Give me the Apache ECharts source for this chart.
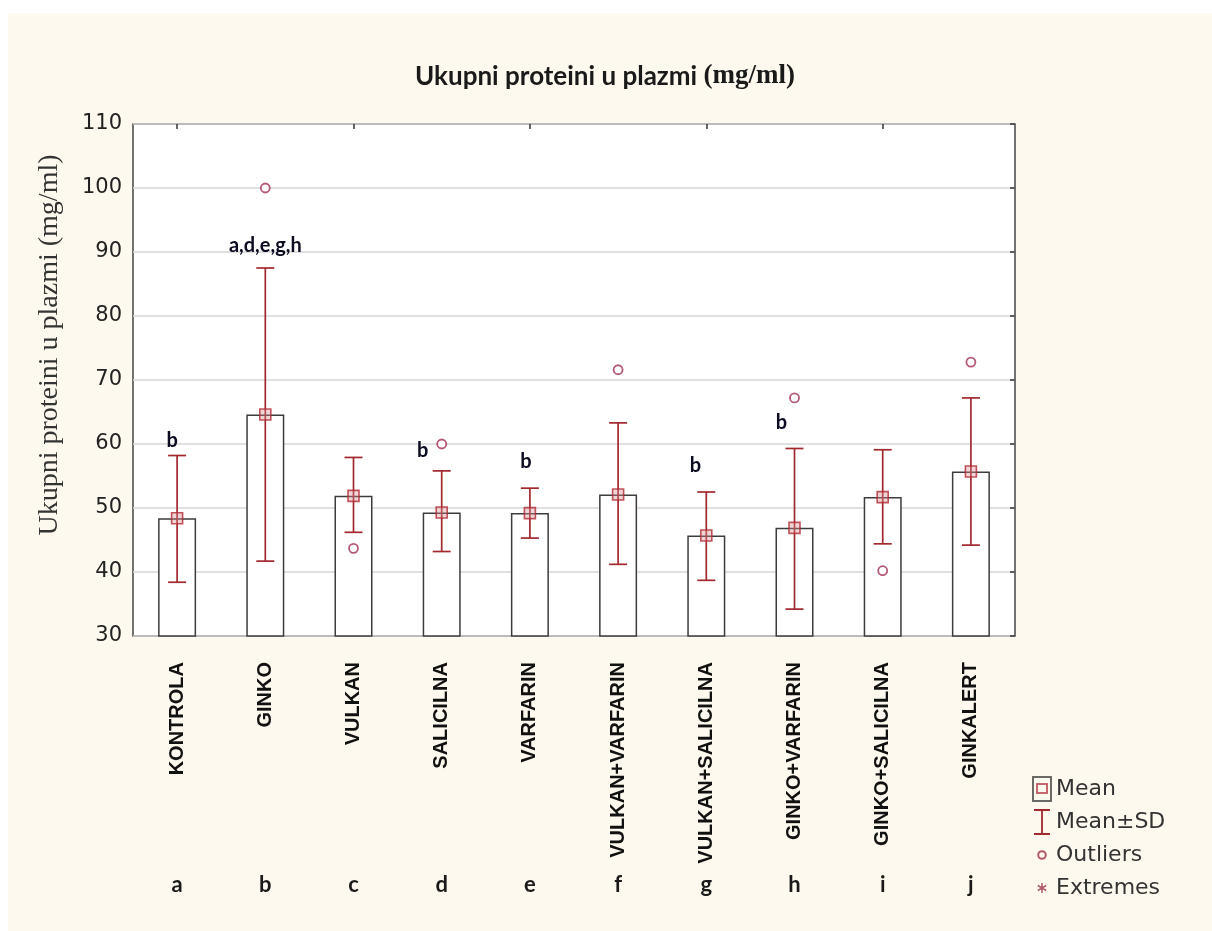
<!DOCTYPE html>
<html>
<head>
<meta charset="utf-8">
<script src="https://cdn.jsdelivr.net/npm/echarts@6/dist/echarts.min.js"></script>
<style>
  html, body { margin: 0; padding: 0; background: #fff; }
  #chart { width: 1212px; height: 931px;
    background: linear-gradient(#fef9ee, #fef9ee) 8px 13px / 100% 100% no-repeat, #fff; }
</style>
</head>
<body>
<div id="chart"></div>
<script>
// ---- data ----
const categories = ['KONTROLA', 'GINKO', 'VULKAN', 'SALICILNA', 'VARFARIN',
  'VULKAN+VARFARIN', 'VULKAN+SALICILNA', 'GINKO+VARFARIN', 'GINKO+SALICILNA', 'GINKALERT'];
const groupLetters = ['a', 'b', 'c', 'd', 'e', 'f', 'g', 'h', 'i', 'j'];
const means   = [48.4, 64.6, 51.9, 49.3, 49.2, 52.1, 45.7, 46.9, 51.7, 55.7];
const sdUpper = [58.2, 87.5, 57.9, 55.8, 53.1, 63.3, 52.5, 59.3, 59.1, 67.2];
const sdLower = [38.4, 41.7, 46.2, 43.2, 45.3, 41.2, 38.7, 34.2, 44.4, 44.2];
// [category index, value]
const outliers = [[1, 100.0], [2, 43.7], [3, 60.0], [5, 71.6], [7, 67.2], [8, 40.2], [9, 72.8]];
const extremes = [];
// [category index, text, value]
const sigLabels = [[0, 'b', 60.5], [1, 'a,d,e,g,h', 91.0], [3, 'b', 59.0], [4, 'b', 57.2], [6, 'b', 56.6], [7, 'b', 63.4]];
const yMin = 30, yMax = 110, yStep = 10;
const titleMain = 'Ukupni proteini u plazmi ';
const titleUnit = '(mg/ml)';
const yTitle = 'Ukupni proteini u plazmi (mg/ml)';

// ---- styling helpers ----
const sigShiftX = { 0: -5, 1: 0, 3: -19, 4: -4, 6: -11, 7: -13 };
const RED = '#a3282e';
function svgIcon(svg) { return 'image://data:image/svg+xml;charset=utf-8,' + encodeURIComponent(svg); }
const iconMean = svgIcon('<svg xmlns="http://www.w3.org/2000/svg" width="22" height="26"><rect x="2" y="1" width="18" height="24" fill="none" stroke="#333" stroke-width="1.8"/><rect x="6" y="8" width="10" height="9" fill="none" stroke="#b03040" stroke-width="1.8"/></svg>');
const iconSD = svgIcon('<svg xmlns="http://www.w3.org/2000/svg" width="22" height="26"><path d="M3 1H19M11 1V25M3 25H19" fill="none" stroke="#a3282e" stroke-width="1.8"/></svg>');
const iconOut = svgIcon('<svg xmlns="http://www.w3.org/2000/svg" width="22" height="26"><circle cx="11" cy="13" r="3.8" fill="none" stroke="#a03050" stroke-width="2"/></svg>');
const iconExt = svgIcon('<svg xmlns="http://www.w3.org/2000/svg" width="22" height="26"><path d="M11 8V18M6.8 10.5L15.2 15.5M6.8 15.5L15.2 10.5" fill="none" stroke="#a03050" stroke-width="1.5"/></svg>');

const chart = echarts.init(document.getElementById('chart'), null, { renderer: 'canvas' });

const errData = categories.map((c, i) => [i, sdLower[i], sdUpper[i]]);

const option = {
  animation: false,
  title: {
    text: '{a|' + titleMain + '}{b|' + titleUnit + '}',
    left: 600, top: 58, textAlign: 'center',
    textStyle: {
      rich: {
        a: { fontFamily: 'Lato', fontWeight: 'bold', fontSize: 26, color: '#1a1a1a' },
        b: { fontFamily: 'Liberation Serif', fontSize: 27, color: '#1a1a1a' }
      }
    }
  },
  grid: {
    left: 133, top: 124, right: 197, bottom: 295,
    show: true, backgroundColor: '#fff', borderColor: '#444', borderWidth: 1.5
  },
  legend: {
    orient: 'vertical', left: 1026, top: 771,
    itemWidth: 22, itemHeight: 26, itemGap: 7,
    selectedMode: false,
    textStyle: { fontFamily: 'DejaVu Sans', fontSize: 22, color: '#333', padding: [0, 0, 0, -2] },
    data: [
      { name: 'Mean', icon: iconMean },
      { name: 'Mean±SD', icon: iconSD },
      { name: 'Outliers', icon: iconOut },
      { name: 'Extremes', icon: iconExt }
    ]
  },
  xAxis: [
    {
      type: 'category', data: categories, position: 'bottom',
      axisLine: { show: false },
      axisTick: { show: true, inside: true, alignWithLabel: true, length: 5, lineStyle: { color: '#333', width: 1.5 } },
      axisLabel: { rotate: 90, margin: 26, fontFamily: 'Liberation Sans', fontWeight: 'bold', fontSize: 20, color: '#111' },
      splitLine: { show: false }
    },
    {
      type: 'category', data: categories, position: 'top',
      axisLine: { show: false },
      axisTick: { show: true, inside: true, alignWithLabel: true, length: 5, lineStyle: { color: '#333', width: 1.5 } },
      axisLabel: { show: false }
    },
    {
      type: 'category', data: groupLetters, position: 'bottom', offset: 238,
      axisLine: { show: false }, axisTick: { show: false },
      axisLabel: { margin: 0, fontFamily: 'Lato', fontWeight: 'bold', fontSize: 22, color: '#1a1a1a' }
    }
  ],
  yAxis: [
    {
      type: 'value', min: yMin, max: yMax, interval: yStep,
      axisLine: { show: false }, axisTick: { show: false },
      axisLabel: { margin: 11, fontFamily: 'DejaVu Sans', fontSize: 21, color: '#222' },
      splitLine: { show: true, lineStyle: { color: '#d6d6d6', width: 1.5 } }
    },
    {
      type: 'value', min: yMin, max: yMax, interval: yStep, position: 'right',
      axisLine: { show: false },
      axisTick: { show: true, inside: true, length: 5, lineStyle: { color: '#333', width: 1.5 } },
      axisLabel: { show: false }, splitLine: { show: false }
    }
  ],
  graphic: [
    {
      type: 'text', x: 50, y: 345, rotation: Math.PI / 2,
      style: { text: yTitle, fontFamily: 'Liberation Serif', fontSize: 28, fill: '#333',
        textAlign: 'center', textVerticalAlign: 'middle' }
    }
  ],
  series: [
    {
      name: 'Bars', type: 'bar', data: means, barWidth: 38, z: 2,
      itemStyle: { color: '#fff', borderColor: '#3c3c3c', borderWidth: 1.5 },
      silent: true
    },
    {
      name: 'Mean±SD', type: 'custom', data: errData, z: 3,
      itemStyle: { color: RED },
      renderItem: function (params, api) {
        const i = api.value(0);
        const lo = api.coord([i, api.value(1)]);
        const hi = api.coord([i, api.value(2)]);
        const w = 9;
        const st = { stroke: RED, lineWidth: 1.7 };
        return {
          type: 'group', children: [
            { type: 'line', shape: { x1: lo[0], y1: lo[1], x2: hi[0], y2: hi[1] }, style: st },
            { type: 'line', shape: { x1: hi[0] - w, y1: hi[1], x2: hi[0] + w, y2: hi[1] }, style: st },
            { type: 'line', shape: { x1: lo[0] - w, y1: lo[1], x2: lo[0] + w, y2: lo[1] }, style: st }
          ]
        };
      }
    },
    {
      name: 'Mean', type: 'scatter', data: means.map((m, i) => [i, m]), z: 4,
      symbol: 'rect', symbolSize: 11,
      itemStyle: { color: 'rgba(220,140,145,0.45)', borderColor: '#b02a35', borderWidth: 1.6 }
    },
    {
      name: 'Outliers', type: 'scatter', data: outliers, z: 4,
      symbol: 'circle', symbolSize: 9,
      itemStyle: { color: '#fff', borderColor: '#a03050', borderWidth: 1.8 }
    },
    {
      name: 'Extremes', type: 'scatter', data: extremes, z: 4,
      symbol: 'path://M0,-5V5M-4.3,-2.5L4.3,2.5M-4.3,2.5L4.3,-2.5', symbolSize: 9,
      itemStyle: { color: '#a03050' }
    },
    {
      name: 'Sig', type: 'scatter', z: 5, symbolSize: 0, silent: true,
      itemStyle: { opacity: 1 },
      data: sigLabels.map(s => ({
        value: [s[0], s[2]],
        label: {
          show: true, formatter: s[1], position: 'inside',
          offset: [sigShiftX[s[0]] || 0, 0],
          fontFamily: 'Lato', fontWeight: 'bold', fontSize: 20, color: '#0b0b22', opacity: 1
        }
      }))
    }
  ]
};
chart.setOption(option);
</script>
</body>
</html>
